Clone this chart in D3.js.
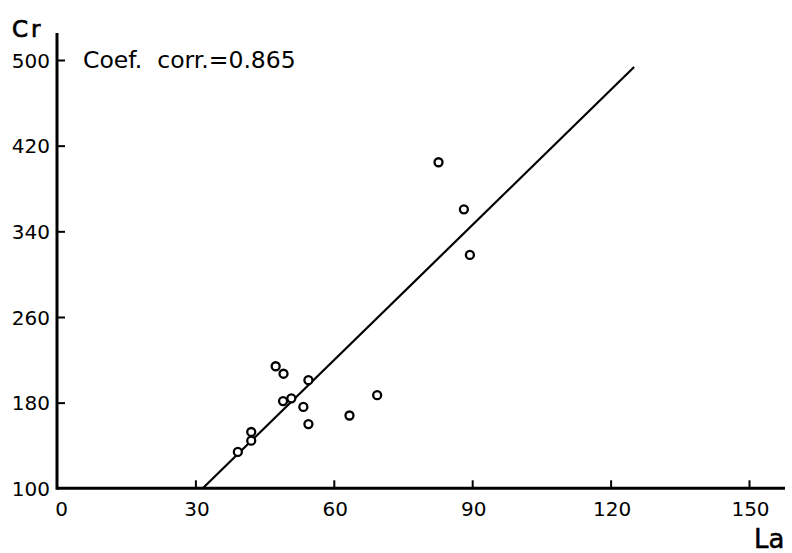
<!DOCTYPE html>
<html>
<head>
<meta charset="utf-8">
<script src="https://cdn.jsdelivr.net/npm/d3@7"></script>
<style>
  html, body { margin: 0; padding: 0; background: #fff; }
  svg { display: block; }
  text { font-family: "DejaVu Sans", sans-serif; fill: #000; }
</style>
</head>
<body>
<svg id="chart" width="792" height="553"></svg>
<script>
// Data
const laValues = [47.4, 49.1, 54.5, 49.0, 50.8, 53.4, 54.5, 42.1, 42.1, 39.2, 63.4, 69.4, 82.7, 88.2, 89.5];
const crValues = [214, 207, 201, 181.5, 184, 176, 160, 152.6, 144.5, 134, 168, 187, 404.5, 360.5, 318];
const fitLineLa = [31.6, 125.1];
const fitLineCr = [100, 493.4];
const xTicks = [0, 30, 60, 90, 120, 150];
const yTicks = [100, 180, 260, 340, 420, 500];
const xLabel = "La";
const yLabel = "Cr";
const annotation = "Coef.  corr.=0.865";

const svg = d3.select("#chart");
const x = d3.scaleLinear().domain([0, 150]).range([57, 749]);
const y = d3.scaleLinear().domain([100, 500]).range([488.3, 60]);

// axes lines
svg.append("line").attr("x1", x(0)).attr("x2", 785).attr("y1", y(100)).attr("y2", y(100))
  .attr("stroke", "#000").attr("stroke-width", 3);
svg.append("line").attr("x1", x(0)).attr("x2", x(0)).attr("y1", y(100) + 1.5).attr("y2", 33)
  .attr("stroke", "#000").attr("stroke-width", 3);

// x axis ticks (pointing up) and labels
const xAxis = d3.axisBottom(x).tickValues(xTicks).tickSize(0).tickPadding(0).tickFormat(d3.format("d"));
const gx = svg.append("g").attr("transform", `translate(0,${y(100)})`).call(xAxis);
gx.select(".domain").remove();
gx.selectAll(".tick line").attr("y1", 0).attr("y2", -8).attr("stroke", "#000").attr("stroke-width", 2)
  .filter(d => d === 0).remove();
gx.selectAll(".tick text").attr("y", 28).attr("dy", 0).attr("font-size", 20)
  .attr("font-family", "DejaVu Sans, sans-serif").attr("fill", "#000")
  .attr("dx", d => d === 0 ? 4 : 1);

// y axis ticks (pointing right) and labels
const yAxis = d3.axisLeft(y).tickValues(yTicks).tickSize(0).tickPadding(0).tickFormat(d3.format("d"));
const gy = svg.append("g").attr("transform", `translate(${x(0)},0)`).call(yAxis);
gy.select(".domain").remove();
gy.selectAll(".tick line").attr("x1", 0).attr("x2", 8).attr("stroke", "#000").attr("stroke-width", 2)
  .filter(d => d === 100).remove();
gy.selectAll(".tick text").attr("x", -7).attr("dy", "0.36em").attr("font-size", 20)
  .attr("font-family", "DejaVu Sans, sans-serif").attr("fill", "#000");

// regression line
svg.append("line")
  .attr("x1", x(fitLineLa[0])).attr("y1", y(fitLineCr[0]))
  .attr("x2", x(fitLineLa[1])).attr("y2", y(fitLineCr[1]))
  .attr("stroke", "#000").attr("stroke-width", 2.2);

// points
svg.append("g").selectAll("circle")
  .data(laValues.map((v, i) => [v, crValues[i]]))
  .join("circle")
  .attr("cx", d => x(d[0])).attr("cy", d => y(d[1]))
  .attr("r", 4).attr("fill", "#fff").attr("stroke", "#000").attr("stroke-width", 2.3);

// labels
svg.append("text").attr("x", 12).attr("y", 37).attr("font-size", 23)
  .attr("stroke", "#000").attr("stroke-width", 0.7).attr("letter-spacing", 3).text(yLabel);
svg.append("text").attr("x", 754).attr("y", 548).attr("font-size", 26)
  .attr("stroke", "#000").attr("stroke-width", 0.5).text(xLabel);
svg.append("text").attr("x", 83).attr("y", 68).attr("font-size", 23.5)
  .style("white-space", "pre").text(annotation);
</script>
</body>
</html>
